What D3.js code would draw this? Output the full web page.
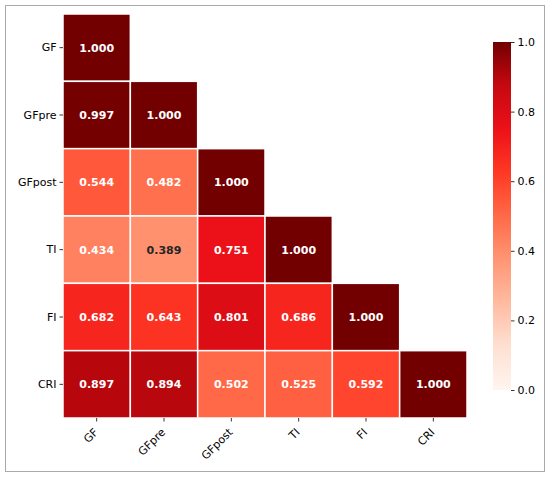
<html>
<head>
<meta charset="utf-8">
<script src="https://cdnjs.cloudflare.com/ajax/libs/d3/7.8.5/d3.min.js"></script>
<style>
  body { margin: 0; background: #fff; }
  text { font-family: "DejaVu Sans", sans-serif; }
</style>
</head>
<body>
<div id="chart"></div>
<script>
// variable names
var labels = ["GF", "GFpre", "GFpost", "TI", "FI", "CRI"];

// lower triangle of the correlation matrix, one array per row
var rowGF     = [1.000];
var rowGFpre  = [0.997, 1.000];
var rowGFpost = [0.544, 0.482, 1.000];
var rowTI     = [0.434, 0.389, 0.751, 1.000];
var rowFI     = [0.682, 0.643, 0.801, 0.686, 1.000];
var rowCRI    = [0.897, 0.894, 0.502, 0.525, 0.592, 1.000];
var rows = [rowGF, rowGFpre, rowGFpost, rowTI, rowFI, rowCRI];

var cbTicks = [0.0, 0.2, 0.4, 0.6, 0.8, 1.0];

// "Reds"-like palette, a bit more saturated to match the picture
var reds = ["#fff5f0","#fee0d2","#ffbba1","#ff9674","#ff6a48","#ff3824","#ec1118","#c60810","#720000"];
var color = d3.scaleLinear()
  .domain(d3.range(reds.length).map(function(i){ return i/(reds.length-1); }))
  .range(reds)
  .interpolate(d3.interpolateRgb)
  .clamp(true);

var W = 550, H = 477;
var svg = d3.select("#chart").append("svg")
  .attr("width", W).attr("height", H);

// outer frame
svg.append("rect")
  .attr("x", 5.5).attr("y", 5.5)
  .attr("width", 539).attr("height", 466)
  .attr("fill", "none").attr("stroke", "#aaaaaa").attr("stroke-width", 1);

var x0 = 63, y0 = 14, size = 404;

var x = d3.scaleBand().domain(labels).range([x0, x0 + size]);
var y = d3.scaleBand().domain(labels).range([y0, y0 + size]);

var cells = [];
rows.forEach(function(r, i){
  r.forEach(function(v, j){
    cells.push({row: labels[i], col: labels[j], v: v});
  });
});

function textColor(c) {
  var rgb = d3.rgb(c);
  var lin = [rgb.r, rgb.g, rgb.b].map(function(u){
    u = u / 255;
    return u <= 0.03928 ? u / 12.92 : Math.pow((u + 0.055) / 1.055, 2.4);
  });
  var lum = 0.2126 * lin[0] + 0.7152 * lin[1] + 0.0722 * lin[2];
  return lum > 0.408 ? "#262626" : "#ffffff";
}

var g = svg.append("g");

g.selectAll("rect.cell")
  .data(cells)
  .enter()
  .append("rect")
  .attr("class", "cell")
  .attr("x", function(d){ return x(d.col); })
  .attr("y", function(d){ return y(d.row); })
  .attr("width", x.bandwidth())
  .attr("height", y.bandwidth())
  .attr("fill", function(d){ return color(d.v); })
  .attr("stroke", "#ffffff")
  .attr("stroke-width", 1.5);

g.selectAll("text.annot")
  .data(cells)
  .enter()
  .append("text")
  .attr("class", "annot")
  .attr("x", function(d){ return x(d.col) + x.bandwidth() / 2; })
  .attr("y", function(d){ return y(d.row) + y.bandwidth() / 2; })
  .attr("dy", "0.36em")
  .attr("text-anchor", "middle")
  .attr("font-size", "11px")
  .attr("font-weight", "bold")
  .attr("fill", function(d){ return textColor(color(d.v)); })
  .text(function(d){ return d3.format(".3f")(d.v); });

// y axis
var yAxis = svg.append("g")
  .attr("transform", "translate(" + x0 + ",0)")
  .call(d3.axisLeft(y).tickSize(3.5).tickPadding(3));
yAxis.select(".domain").remove();
yAxis.selectAll("text").attr("font-size", "11px").attr("fill", "#000")
  .style("font-family", "DejaVu Sans, sans-serif");
yAxis.selectAll("line").attr("stroke", "#000").attr("stroke-width", 0.8);

// x axis
var xAxis = svg.append("g")
  .attr("transform", "translate(0," + (y0 + size) + ")")
  .call(d3.axisBottom(x).tickSize(3.5).tickPadding(3));
xAxis.select(".domain").remove();
xAxis.selectAll("line").attr("stroke", "#000").attr("stroke-width", 0.8);
xAxis.selectAll("text")
  .attr("font-size", "11px").attr("fill", "#000")
  .style("font-family", "DejaVu Sans, sans-serif")
  .attr("text-anchor", "end")
  .attr("y", 0).attr("dy", 0)
  .attr("transform", "translate(2,15) rotate(-45)");

// colour bar
var cbX = 493, cbW = 18, cbTop = 42, cbBot = 390;
var cbScale = d3.scaleLinear().domain([0, 1]).range([cbBot, cbTop]);

var defs = svg.append("defs");
var grad = defs.append("linearGradient")
  .attr("id", "cbgrad")
  .attr("x1", "0").attr("y1", "1").attr("x2", "0").attr("y2", "0");
grad.selectAll("stop")
  .data(d3.range(0, 1.0001, 0.02))
  .enter()
  .append("stop")
  .attr("offset", function(d){ return d; })
  .attr("stop-color", function(d){ return color(d); });

svg.append("rect")
  .attr("x", cbX).attr("y", cbTop)
  .attr("width", cbW).attr("height", cbBot - cbTop)
  .attr("fill", "url(#cbgrad)");

var cbAxis = svg.append("g")
  .attr("transform", "translate(" + (cbX + cbW) + ",0)")
  .call(d3.axisRight(cbScale).tickValues(cbTicks).tickFormat(d3.format(".1f")).tickSize(3.5).tickPadding(3));
cbAxis.select(".domain").remove();
cbAxis.selectAll("line").attr("stroke", "#000").attr("stroke-width", 0.8);
cbAxis.selectAll("text").attr("font-size", "11px").attr("fill", "#000")
  .style("font-family", "DejaVu Sans, sans-serif");
</script>
</body>
</html>
